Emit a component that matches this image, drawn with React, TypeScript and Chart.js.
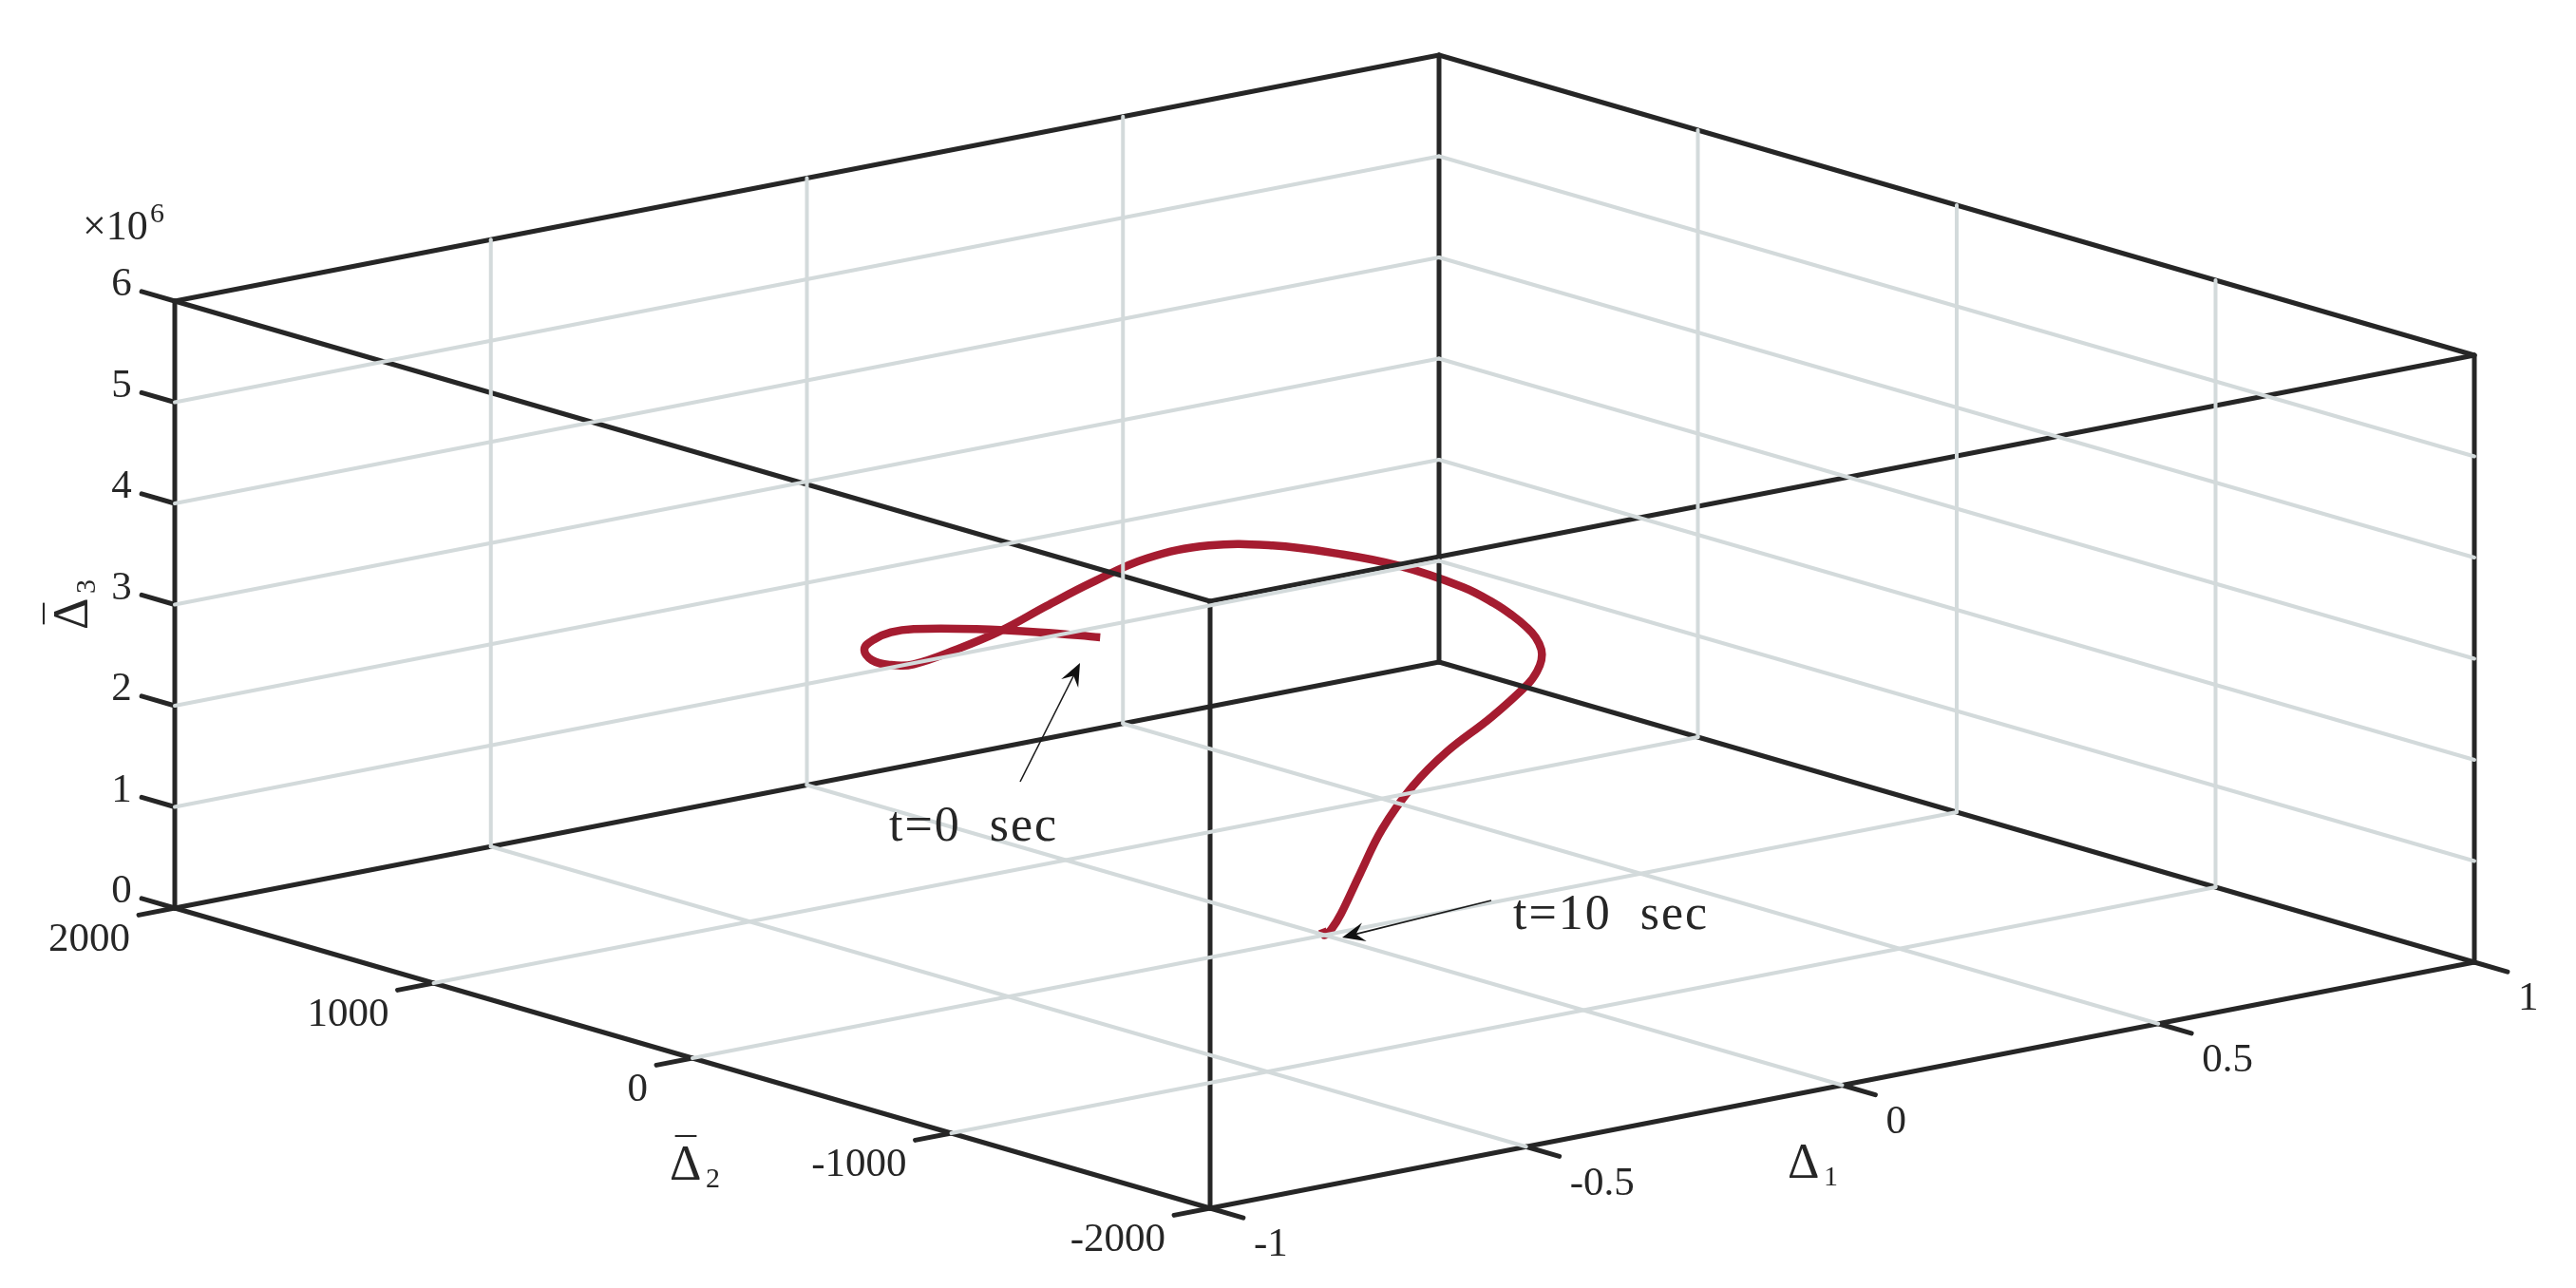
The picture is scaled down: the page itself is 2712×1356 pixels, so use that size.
import React, { useEffect, useRef } from "react";
import { Chart, registerables } from "chart.js";

Chart.register(...registerables);

// Axis ticks
const delta1Ticks = [-1, -0.5, 0, 0.5, 1];
const delta1Labels = ["-1", "-0.5", "0", "0.5", "1"];
const delta2Ticks = [2000, 1000, 0, -1000, -2000];
const delta2Labels = ["2000", "1000", "0", "-1000", "-2000"];
const delta3Ticks = [0, 1, 2, 3, 4, 5, 6];
const delta3Labels = ["0", "1", "2", "3", "4", "5", "6"];

// Trajectory. A single 2D view cannot separate depth, so
// the coordinate along the line of sight is not observable: delta2 is held at 0
// and the other two are whatever puts the curve where the picture shows it.
const delta1 = [
  -0.355, -0.45, -0.551, -0.65, -0.686, -0.713, -0.728, -0.716, -0.686, -0.65,
  -0.581, -0.51, -0.44, -0.367, -0.282, -0.183, -0.082, 0.019, 0.118, 0.219,
  0.268, 0.297, 0.319, 0.334, 0.343, 0.343, 0.336, 0.322, 0.264, 0.193,
  0.139, 0.091, 0.056, 0.026, 0.011, 0, -0.004,
];
const delta3 = [
  3.376, 3.541, 3.695, 3.816, 3.828, 3.789, 3.713, 3.589, 3.505, 3.468,
  3.534, 3.636, 3.788, 3.935, 4.066, 4.074, 3.951, 3.75, 3.507, 3.173,
  2.956, 2.799, 2.659, 2.537, 2.404, 2.301, 2.197, 2.092, 1.834, 1.576,
  1.3, 0.936, 0.537, 0.179, 0.047, 0, 0.066,
];
const delta2 = delta1.map(() => 0);

const D1 = [-1, 1];
const D2 = [-2000, 2000];
const D3 = [0, 6];

// Orthographic view: data -> view plane
const view = { x0: 1394.5, y0: 984.5, ax: 665.5, ay: -129.5, bx: -0.2725, by: -0.079, cy: -106.5 };
const project = (d1: number, d2: number, d3: number) => ({
  x: view.x0 + view.ax * d1 + view.bx * d2,
  y: view.y0 + view.ay * d1 + view.by * d2 + view.cy * d3,
});

const INK = "#262626";
const GRID = "#d3dadb";
const CURVE = "#a51c30";
const FONT = '"Liberation Serif", serif';

const seg = (a: number[], b: number[], color: string, width: number) => ({
  type: "scatter" as const,
  showLine: true,
  data: [project(a[0], a[1], a[2]), project(b[0], b[1], b[2])],
  borderColor: color,
  borderWidth: width,
  borderCapStyle: "round" as const,
  pointRadius: 0,
  clip: false,
});

function buildDatasets() {
  const out: any[] = [];
  const [x0, x1] = D1;
  const [y0, y1] = D2;
  const [z0, z1] = D3;
  const GW = 4;
  const BW = 5;
  // grid: floor
  delta1Ticks.slice(1, -1).forEach((t) => out.push(seg([t, y0, z0], [t, y1, z0], GRID, GW)));
  delta2Ticks.slice(1, -1).forEach((t) => out.push(seg([x0, t, z0], [x1, t, z0], GRID, GW)));
  // grid: walls
  delta3Ticks.slice(1, -1).forEach((t) => {
    out.push(seg([x0, y1, t], [x1, y1, t], GRID, GW));
    out.push(seg([x1, y1, t], [x1, y0, t], GRID, GW));
  });
  delta1Ticks.slice(1, -1).forEach((t) => out.push(seg([t, y1, z0], [t, y1, z1], GRID, GW)));
  delta2Ticks.slice(1, -1).forEach((t) => out.push(seg([x1, t, z0], [x1, t, z1], GRID, GW)));
  // box
  [z0, z1].forEach((z) => {
    out.push(seg([x0, y1, z], [x0, y0, z], INK, BW));
    out.push(seg([x0, y0, z], [x1, y0, z], INK, BW));
    out.push(seg([x1, y0, z], [x1, y1, z], INK, BW));
    out.push(seg([x1, y1, z], [x0, y1, z], INK, BW));
  });
  [[x0, y1], [x0, y0], [x1, y0], [x1, y1]].forEach(([a, b]) =>
    out.push(seg([a, b, z0], [a, b, z1], INK, BW))
  );
  // ticks
  delta3Ticks.forEach((t) => out.push(seg([x0, y1, t], [x0, y1 + 128, t], INK, BW)));
  delta2Ticks.forEach((t) => out.push(seg([x0, t, z0], [x0 - 0.057, t, z0], INK, BW)));
  delta1Ticks.forEach((t) => out.push(seg([t, y0, z0], [t, y0 - 128, z0], INK, BW)));
  // trajectory
  out.push({
    type: "scatter",
    showLine: true,
    data: delta1.map((d, i) => project(d, delta2[i], delta3[i])),
    borderColor: CURVE,
    borderWidth: 8.5,
    borderCapStyle: "butt",
    borderJoinStyle: "round",
    tension: 0.4,
    pointRadius: 0,
    clip: false,
  });
  return out;
}

const arrows = [
  { from: [1074, 823], to: [1137, 698] },
  { from: [1570, 948], to: [1413, 987] },
];
const notes = [
  { text: "t=0  sec", x: 936, y: 871 },
  { text: "t=10  sec", x: 1593, y: 964 },
];

const overlay = {
  id: "overlay",
  afterDatasetsDraw(chart: any) {
    const { ctx, scales } = chart;
    const px = (p: { x: number; y: number }) => ({
      x: scales.x.getPixelForValue(p.x),
      y: scales.y.getPixelForValue(p.y),
    });
    ctx.save();
    ctx.fillStyle = INK;
    ctx.textBaseline = "middle";
    const put = (s: string, x: number, y: number, size: number, align: CanvasTextAlign = "left") => {
      ctx.font = `${size}px ${FONT}`;
      ctx.textAlign = align;
      ctx.fillText(s, x, y);
    };
    // tick labels
    delta3Ticks.forEach((t, i) => {
      const p = px(project(D1[0], D2[1], t));
      put(delta3Labels[i], p.x - 56, p.y - 17, 43, "center");
    });
    delta2Ticks.forEach((t, i) => {
      const p = px(project(D1[0], t, D3[0]));
      put(delta2Labels[i], p.x - 47, p.y + 34, 43, "right");
    });
    delta1Ticks.forEach((t, i) => {
      const p = px(project(t, D2[0], D3[0]));
      put(delta1Labels[i], p.x + 46, p.y + 39, 43, "left");
    });
    // exponent
    put("\u00d710", 87, 240, 44);
    put("6", 158, 226, 30);
    // axis titles
    ctx.textBaseline = "alphabetic";
    const deltaTitle = (left: number, base: number, sub: string, bar: boolean) => {
      put("\u0394", left, base, 52);
      if (bar) put("\u00af", left + 17, base - 13, 44, "center");
      put(sub, left + 38, base + 8, 30);
    };
    deltaTitle(705, 1242, "2", true);
    deltaTitle(1882, 1240, "1", false);
    ctx.save();
    ctx.translate(92, 663);
    ctx.rotate(-Math.PI / 2);
    deltaTitle(0, 0, "3", true);
    ctx.restore();
    // annotations
    ctx.textBaseline = "middle";
    (ctx as any).letterSpacing = "2px";
    notes.forEach((n) => put(n.text, n.x, n.y, 52));
    (ctx as any).letterSpacing = "0px";
    // arrows
    ctx.strokeStyle = "#1a1a1a";
    ctx.fillStyle = "#111";
    arrows.forEach((a) => {
      const f = px({ x: a.from[0], y: a.from[1] });
      const t = px({ x: a.to[0], y: a.to[1] });
      const ang = Math.atan2(t.y - f.y, t.x - f.x);
      ctx.lineWidth = 1.6;
      ctx.beginPath();
      ctx.moveTo(f.x, f.y);
      ctx.lineTo(t.x - 14 * Math.cos(ang), t.y - 14 * Math.sin(ang));
      ctx.stroke();
      const len = 24;
      const wid = 10;
      const bx = t.x - len * Math.cos(ang);
      const by = t.y - len * Math.sin(ang);
      const nx = -Math.sin(ang);
      const ny = Math.cos(ang);
      const mx = t.x - 15 * Math.cos(ang);
      const my = t.y - 15 * Math.sin(ang);
      ctx.beginPath();
      ctx.moveTo(t.x, t.y);
      ctx.lineTo(bx + nx * wid, by + ny * wid);
      ctx.lineTo(mx, my);
      ctx.lineTo(bx - nx * wid, by - ny * wid);
      ctx.closePath();
      ctx.fill();
    });
    ctx.restore();
  },
};

export default function App() {
  const ref = useRef<HTMLCanvasElement>(null);
  useEffect(() => {
    document.body.style.margin = "0";
    const chart = new Chart(ref.current as HTMLCanvasElement, {
      type: "scatter",
      data: { datasets: buildDatasets() },
      options: {
        animation: false,
        responsive: false,
        devicePixelRatio: 1,
        layout: { padding: 0 },
        plugins: { legend: { display: false }, tooltip: { enabled: false } },
        scales: {
          x: { type: "linear", min: 0, max: 2712, display: false },
          y: { type: "linear", min: 0, max: 1356, reverse: true, display: false },
        },
      },
      plugins: [overlay],
    } as any);
    return () => chart.destroy();
  }, []);
  return <canvas ref={ref} width={2712} height={1356} style={{ display: "block", filter: "blur(0.6px)" }} />;
}
